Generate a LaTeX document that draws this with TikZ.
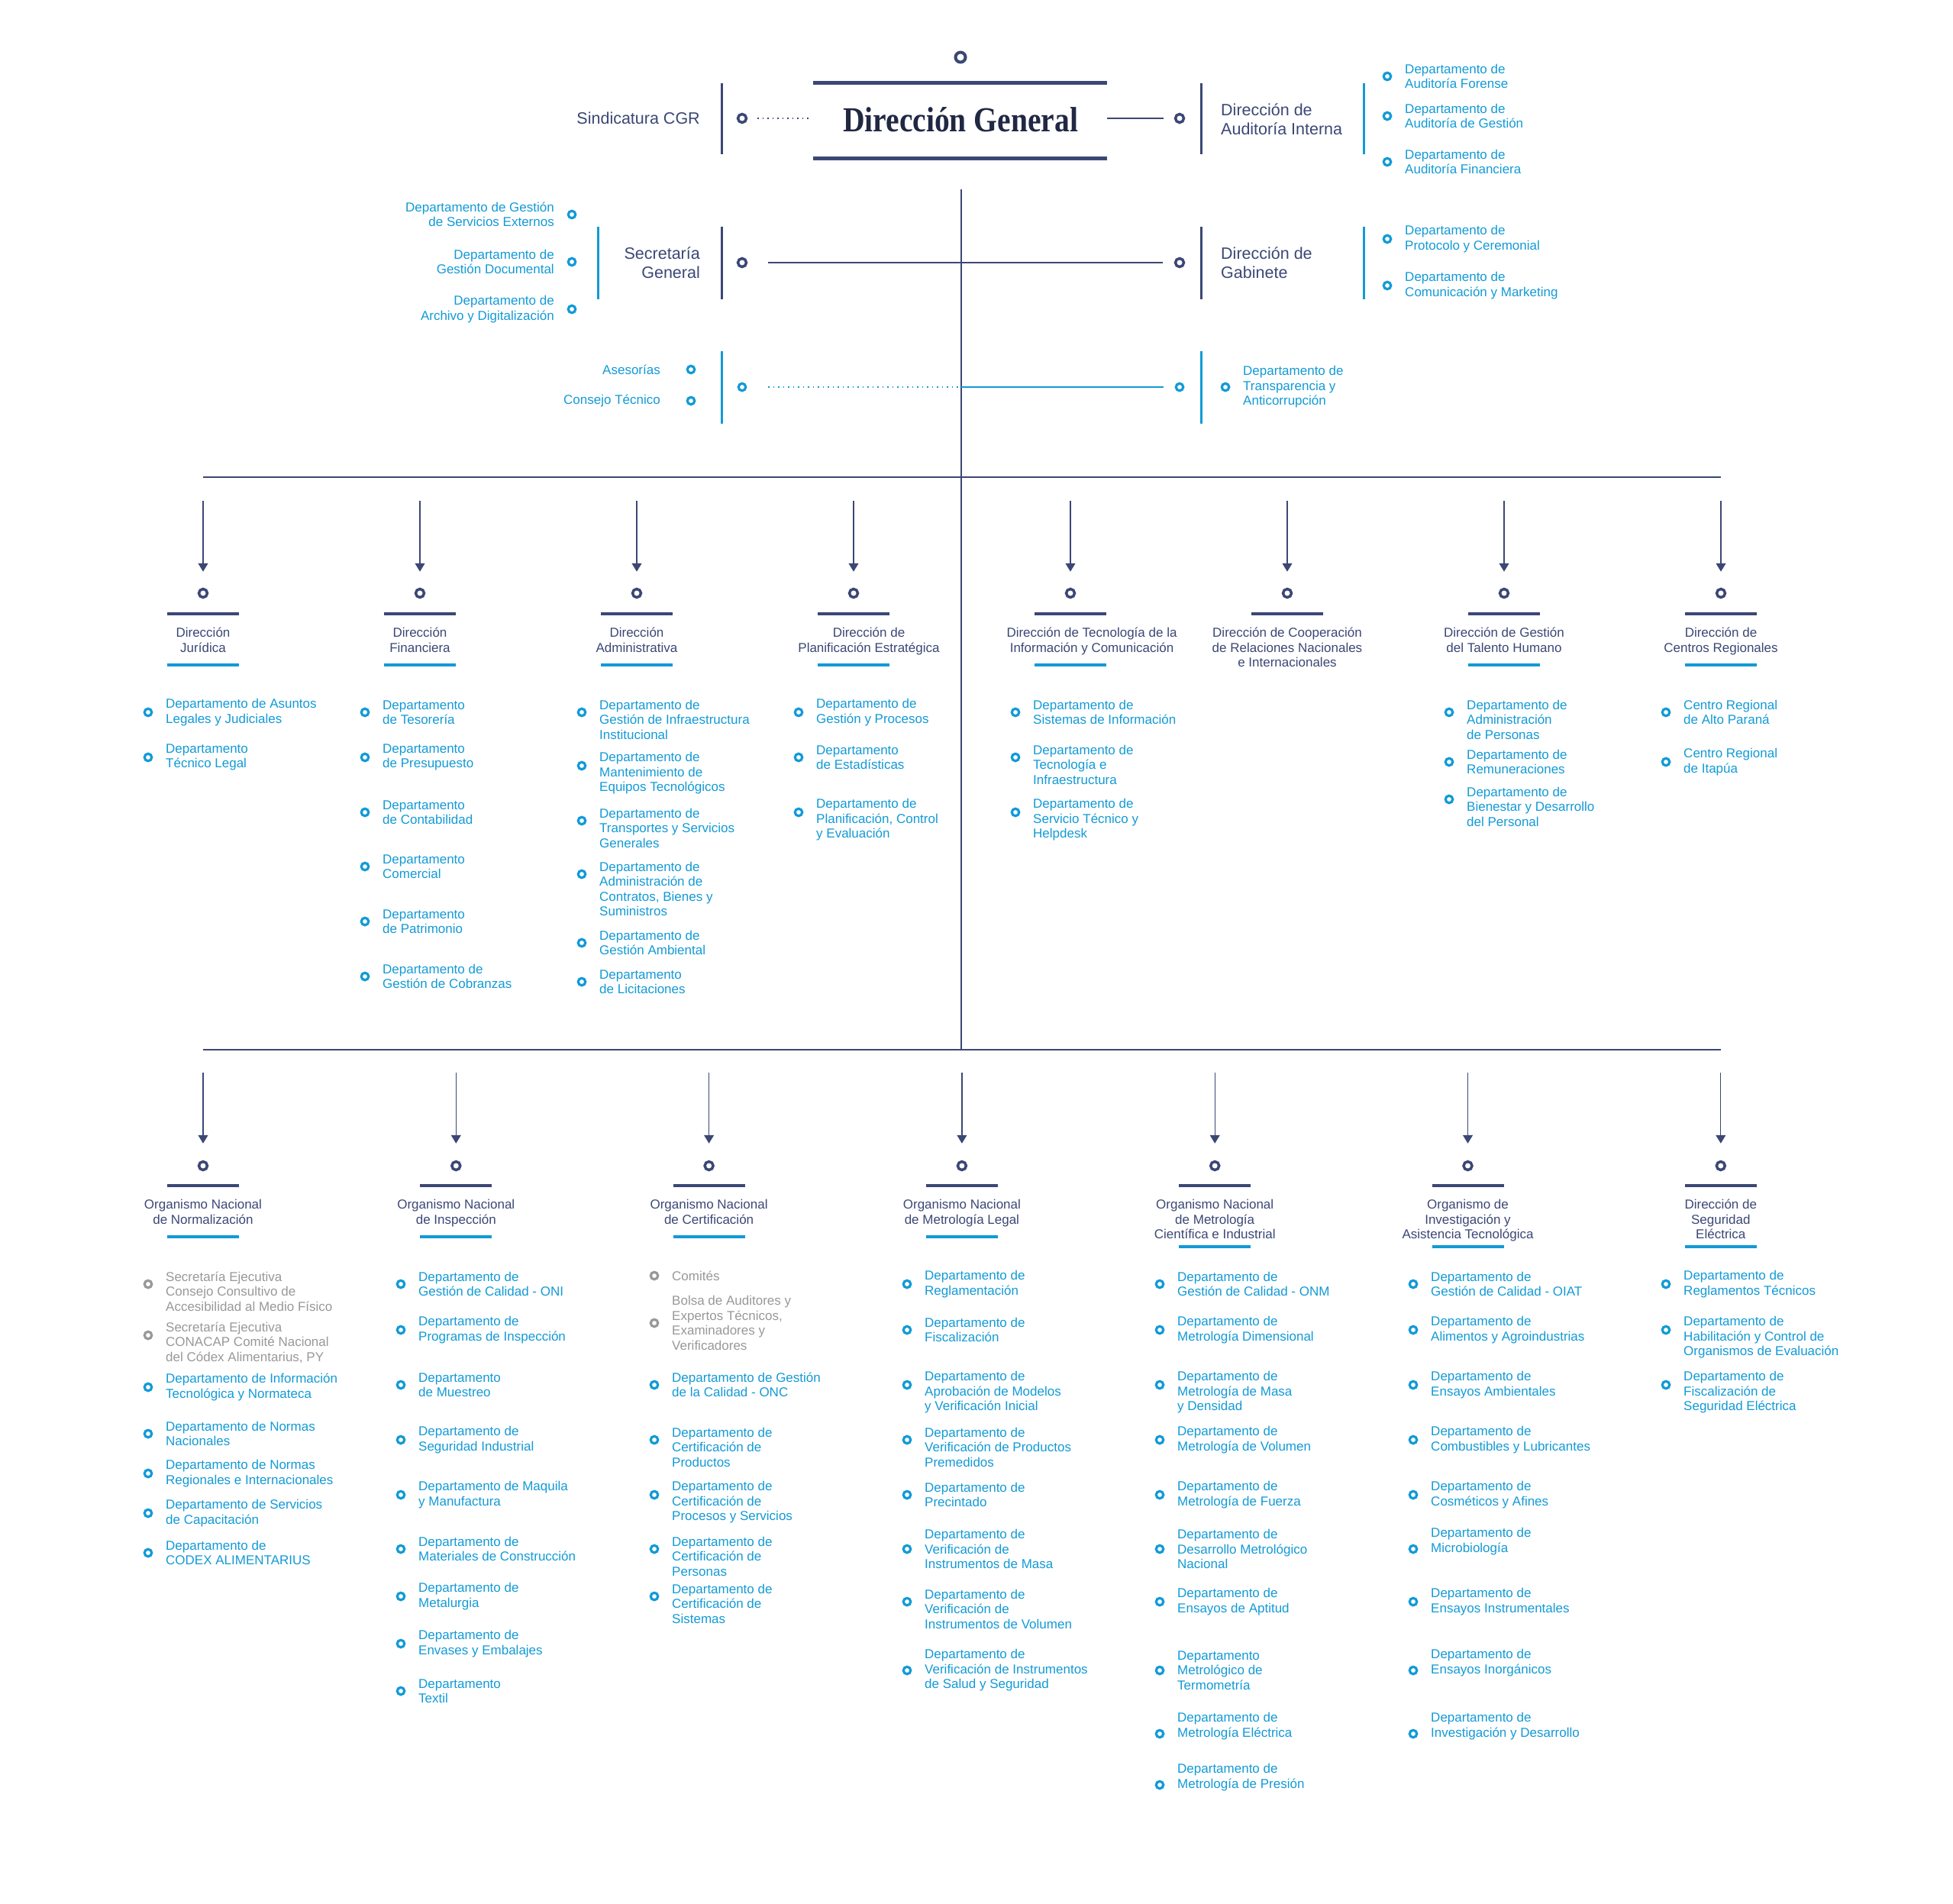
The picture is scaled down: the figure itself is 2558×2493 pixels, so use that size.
\documentclass[tikz,border=0pt]{standalone}
\usepackage{fontspec}
\setmainfont{Liberation Sans}
\newfontfamily\dgfont{Liberation Serif}
\usepackage{tikz}
\usetikzlibrary{positioning,arrows.meta}
\definecolor{cgrnavy}{RGB}{59,71,117}
\definecolor{cgrink}{RGB}{33,40,68}
\definecolor{cgrblue}{RGB}{18,154,214}
\definecolor{cgrgrey}{RGB}{152,152,152}

\begin{document}
\begin{tikzpicture}[x=1pt, y=-1pt]
	\tikzstyle{topdot}=[circle, draw=cgrnavy, line width=4pt, minimum size=13pt, inner sep=0pt]
	\tikzstyle{hdot}=[circle, draw=cgrnavy, line width=3.5pt, minimum size=11pt, inner sep=0pt]
	\tikzstyle{bdot}=[circle, draw=cgrblue, line width=3.2pt, minimum size=9.5pt, inner sep=0pt]
	\tikzstyle{gdot}=[bdot, draw=cgrgrey]
	\tikzstyle{unit}=[text=cgrnavy, inner sep=0pt, font=\fontsize{21.5}{24.5}\selectfont]
	\tikzstyle{head}=[text=cgrnavy, inner sep=0pt, align=center, font=\fontsize{17}{19.5}\selectfont]
	\tikzstyle{dept}=[text=cgrblue, inner sep=0pt, align=left, font=\fontsize{17}{19.5}\selectfont]
	\tikzstyle{greydept}=[dept, text=cgrgrey]
	\tikzstyle{navybar}=[draw=cgrnavy, line width=4pt]
	\tikzstyle{bluebar}=[draw=cgrblue, line width=4pt]
	\tikzstyle{link}=[draw=cgrnavy, line width=1.3pt]
	\tikzstyle{dotline}=[line width=1.5pt, dash pattern=on 1.5pt off 5pt]
	\tikzstyle{arr}=[link, -{Triangle[width=13pt,length=11pt]}]

	\useasboundingbox (0,0) rectangle (2558,2493);

	% direccion general
	\node [topdot] (top) at (1258,75) {};
	\node [text=cgrink, inner sep=0pt, font=\fontsize{46}{50}\dgfont\bfseries] (dg) at (1258,157) {\scalebox{0.86}[1]{Dirección General}};
	\draw [navybar, line width=5pt] (1065,108) -- (1450,108);
	\draw [navybar, line width=5pt] (1065,207) -- (1450,207);
	\coordinate (dg-l) at (1062,155);
	\coordinate (dg-r) at (1450,155);

	\node [hdot] (sind) at (972,155) {};
	\node [unit, anchor=east] (sind-t) at (917,155) {Sindicatura CGR};
	\draw [navybar, line width=3pt] (945,109) -- (945,202);
	\draw [dotline, cgrnavy, shorten <=13pt] (sind) -- (dg-l);

	\node [hdot] (audit) at (1545,155) {};
	\node [unit, anchor=west, align=left] (audit-t) at (1599,156) {Dirección de\\Auditoría Interna};
	\draw [navybar, line width=3pt] (1573,109) -- (1573,202);
	\draw [bluebar, line width=3pt] (1786,109) -- (1786,202);
	\draw [link, shorten >=14pt] (dg-r) -- (audit);
	\foreach \y/\txt [count=\k] in {100/{Departamento de\\Auditoría Forense}, 152/{Departamento de\\Auditoría de Gestión}, 212/{Departamento de\\Auditoría Financiera}}{
		\node [bdot] (audit-\k) at (1817,\y) {};
		\node [dept, anchor=west] (audit-\k-t) at (1840,\y) {\txt};
	}

	% tronco
	\coordinate (trunk) at (1259,248);
	\coordinate (bus1) at (1259,625);
	\coordinate (bus2) at (1259,1375);
	\draw [link] (trunk) -- (bus2);

	% secretaria general y gabinete
	\node [hdot] (sec) at (972,344) {};
	\node [unit, anchor=east, align=right] (sec-t) at (917,344) {Secretaría\\General};
	\draw [navybar, line width=3pt] (945,297) -- (945,392);
	\draw [bluebar, line width=3pt] (783,297) -- (783,392);
	\foreach \y/\txt [count=\k] in {281/{Departamento de Gestión\\de Servicios Externos}, 343/{Departamento de\\Gestión Documental}, 405/{Departamento de\\Archivo y Digitalización}}{
		\node [bdot] (sec-\k) at (749,\y) {};
		\node [dept, anchor=east, align=right] (sec-\k-t) at (726,\y) {\txt};
	}
	\node [hdot] (gab) at (1545,344) {};
	\node [unit, anchor=west, align=left] (gab-t) at (1599,344) {Dirección de\\Gabinete};
	\draw [navybar, line width=3pt] (1573,297) -- (1573,392);
	\draw [bluebar, line width=3pt] (1786,297) -- (1786,392);
	\foreach \y/\txt [count=\k] in {313/{Departamento de\\Protocolo y Ceremonial}, 374/{Departamento de\\Comunicación y Marketing}}{
		\node [bdot] (gab-\k) at (1817,\y) {};
		\node [dept, anchor=west] (gab-\k-t) at (1840,\y) {\txt};
	}
	\draw [link, shorten <=27pt, shorten >=15pt] (sec) -- (gab);

	% asesorias y transparencia
	\coordinate (mid) at (1259,507);
	\node [bdot] (ases) at (972,507) {};
	\draw [bluebar, line width=3pt] (945,460) -- (945,555);
	\node [bdot] (ases-1) at (905,484) {};
	\node [dept, anchor=east] (ases-1-t) at (865,484) {Asesorías};
	\node [bdot] (ases-2) at (905,525) {};
	\node [dept, anchor=east] (ases-2-t) at (865,525) {Consejo Técnico};
	\draw [dotline, cgrblue, shorten <=28pt] (ases) -- (mid);
	\node [bdot] (transp) at (1545,507) {};
	\draw [cgrblue, line width=1.5pt, shorten >=15pt] (mid) -- (transp);
	\draw [bluebar, line width=3pt] (1573,460) -- (1573,555);
	\node [bdot] (transp-1) at (1605,507) {};
	\node [dept, anchor=west] (transp-1-t) at (1628,507) {Departamento de\\Transparencia y\\Anticorrupción};

	% direcciones
	\coordinate (bus1-l) at (266,625);
	\coordinate (bus1-r) at (2254,625);
	\draw [link, line width=2.2pt] (bus1-l) -- (bus1-r);
	\foreach \i/\n/\dx/\txt in {0/jur/0/{Dirección\\Jurídica}, 1/fin/0/{Dirección\\Financiera}, 2/adm/0/{Dirección\\Administrativa}, 3/pla/20/{Dirección de\\Planificación Estratégica}, 4/tic/28/{Dirección de Tecnología de la\\Información y Comunicación}, 5/coo/0/{Dirección de Cooperación\\de Relaciones Nacionales\\e Internacionales}, 6/tal/0/{Dirección de Gestión\\del Talento Humano}, 7/cen/0/{Dirección de\\Centros Regionales}}{
		\coordinate (\n-in) at (266+284*\i,656);
		\node [hdot] (\n) at (266+284*\i,777) {};
		\draw [arr, shorten >=21pt] (\n-in) -- (\n);
		\draw [navybar] (266+284*\i-47,804) -- ++(94,0);
		\node [head, anchor=north] (\n-h) at (266+284*\i+\dx,822) {\txt};
	}
	\foreach \i in {0,1,2,3,4,6,7}
		\draw [bluebar] (266+284*\i-47,871) -- ++(94,0);

	\foreach \y/\s/\txt [count=\k] in {933/0/{Departamento de Asuntos\\Legales y Judiciales}, 992/0/{Departamento\\Técnico Legal}}{
		\node [bdot] (jur-\k) at (194,\y) {};
		\node [dept, anchor=west] (jur-\k-t) at (217,\y+\s) {\txt};
	}
	\foreach \y/\s/\txt [count=\k] in {933/0/{Departamento\\de Tesorería}, 992/0/{Departamento\\de Presupuesto}, 1064/0/{Departamento\\de Contabilidad}, 1135/0/{Departamento\\Comercial}, 1207/0/{Departamento\\de Patrimonio}, 1279/0/{Departamento de\\Gestión de Cobranzas}}{
		\node [bdot] (fin-\k) at (478,\y) {};
		\node [dept, anchor=west] (fin-\k-t) at (501,\y+\s) {\txt};
	}
	\foreach \y/\s/\txt [count=\k] in {933/9.75/{Departamento de\\Gestión de Infraestructura\\Institucional}, 1003/9.75/{Departamento de\\Mantenimiento de\\Equipos Tecnológicos}, 1075/9.75/{Departamento de\\Transportes y Servicios\\Generales}, 1145/19.5/{Departamento de\\Administración de\\Contratos, Bienes y\\Suministros}, 1235/0/{Departamento de\\Gestión Ambiental}, 1286/0/{Departamento\\de Licitaciones}}{
		\node [bdot] (adm-\k) at (762,\y) {};
		\node [dept, anchor=west] (adm-\k-t) at (785,\y+\s) {\txt};
	}
	\foreach \y/\s/\txt [count=\k] in {933/0/{Departamento de\\Gestión y Procesos}, 992/0/{Departamento\\de Estadísticas}, 1064/9.75/{Departamento de\\Planificación, Control\\y Evaluación}}{
		\node [bdot] (pla-\k) at (1046,\y) {};
		\node [dept, anchor=west] (pla-\k-t) at (1069,\y+\s) {\txt};
	}
	\foreach \y/\s/\txt [count=\k] in {933/0/{Departamento de\\Sistemas de Información}, 992/9.75/{Departamento de\\Tecnología e\\Infraestructura}, 1064/9.75/{Departamento de\\Servicio Técnico y\\Helpdesk}}{
		\node [bdot] (tic-\k) at (1330,\y) {};
		\node [dept, anchor=west] (tic-\k-t) at (1353,\y+\s) {\txt};
	}
	\foreach \y/\s/\txt [count=\k] in {933/9.75/{Departamento de\\Administración\\de Personas}, 998/0/{Departamento de\\Remuneraciones}, 1047/9.75/{Departamento de\\Bienestar y Desarrollo\\del Personal}}{
		\node [bdot] (tal-\k) at (1898,\y) {};
		\node [dept, anchor=west] (tal-\k-t) at (1921,\y+\s) {\txt};
	}
	\foreach \y/\s/\txt [count=\k] in {933/0/{Centro Regional\\de Alto Paraná}, 998/0/{Centro Regional\\de Itapúa}}{
		\node [bdot] (cen-\k) at (2182,\y) {};
		\node [dept, anchor=west] (cen-\k-t) at (2205,\y+\s) {\txt};
	}

	% organismos
	\coordinate (bus2-l) at (266,1375);
	\coordinate (bus2-r) at (2254,1375);
	\draw [link, line width=2.2pt] (bus2-l) -- (bus2-r);
	\foreach \i/\n/\txt/\b in {0/onn/{Organismo Nacional\\de Normalización}/1620, 1/oni/{Organismo Nacional\\de Inspección}/1620, 2/onc/{Organismo Nacional\\de Certificación}/1620, 3/onml/{Organismo Nacional\\de Metrología Legal}/1620, 4/onm/{Organismo Nacional\\de Metrología\\Científica e Industrial}/1633, 5/oiat/{Organismo de\\Investigación y\\Asistencia Tecnológica}/1633, 6/dse/{Dirección de\\Seguridad\\Eléctrica}/1633}{
		\coordinate (\n-in) at (266+331.3*\i,1405);
		\node [hdot] (\n) at (266+331.3*\i,1527) {};
		\draw [arr, shorten >=22pt] (\n-in) -- (\n);
		\draw [navybar] (266+331.3*\i-47,1553) -- ++(94,0);
		\node [head, anchor=north] (\n-h) at (266+331.3*\i,1571) {\txt};
		\draw [bluebar] (266+331.3*\i-47,\b) -- ++(94,0);
	}

	\node [gdot] (onn-g1) at (194,1682) {};
	\node [greydept, anchor=west] (onn-g1-t) at (217,1691.75) {Secretaría Ejecutiva\\Consejo Consultivo de\\Accesibilidad al Medio Físico};
	\node [gdot] (onn-g2) at (194,1749) {};
	\node [greydept, anchor=west] (onn-g2-t) at (217,1758.75) {Secretaría Ejecutiva\\CONACAP Comité Nacional\\del Códex Alimentarius, PY};
	\foreach \y/\s/\txt [count=\k] in {1817/0/{Departamento de Información\\Tecnológica y Normateca}, 1878/0/{Departamento de Normas\\Nacionales}, 1930/0/{Departamento de Normas\\Regionales e Internacionales}, 1982/0/{Departamento de Servicios\\de Capacitación}, 2034/0/{Departamento de\\CODEX ALIMENTARIUS}}{
		\node [bdot] (onn-\k) at (194,\y) {};
		\node [dept, anchor=west] (onn-\k-t) at (217,\y+\s) {\txt};
	}
	\foreach \y/\s/\txt [count=\k] in {1682/0/{Departamento de\\Gestión de Calidad - ONI}, 1742/0/{Departamento de\\Programas de Inspección}, 1814/0/{Departamento\\de Muestreo}, 1886/0/{Departamento de\\Seguridad Industrial}, 1958/0/{Departamento de Maquila\\y Manufactura}, 2029/0/{Departamento de\\Materiales de Construcción}, 2091/0/{Departamento de\\Metalurgia}, 2153/0/{Departamento de\\Envases y Embalajes}, 2215/0/{Departamento\\Textil}}{
		\node [bdot] (oni-\k) at (525,\y) {};
		\node [dept, anchor=west] (oni-\k-t) at (548,\y+\s) {\txt};
	}
	\node [gdot] (onc-g1) at (857,1671) {};
	\node [greydept, anchor=west] (onc-g1-t) at (880,1671) {Comités};
	\node [gdot] (onc-g2) at (857,1733) {};
	\node [greydept, anchor=west] (onc-g2-t) at (880,1733) {Bolsa de Auditores y\\Expertos Técnicos,\\Examinadores y\\Verificadores};
	\foreach \y/\s/\txt [count=\k] in {1814/0/{Departamento de Gestión\\de la Calidad - ONC}, 1886/9.75/{Departamento de\\Certificación de\\Productos}, 1958/9.75/{Departamento de\\Certificación de\\Procesos y Servicios}, 2029/9.75/{Departamento de\\Certificación de\\Personas}, 2091/9.75/{Departamento de\\Certificación de\\Sistemas}}{
		\node [bdot] (onc-\k) at (857,\y) {};
		\node [dept, anchor=west] (onc-\k-t) at (880,\y+\s) {\txt};
	}
	\foreach \y/\s/\txt [count=\k] in {1682/0/{Departamento de\\Reglamentación}, 1742/0/{Departamento de\\Fiscalización}, 1814/9.75/{Departamento de\\Aprobación de Modelos\\y Verificación Inicial}, 1886/9.75/{Departamento de\\Verificación de Productos\\Premedidos}, 1958/0/{Departamento de\\Precintado}, 2029/0/{Departamento de\\Verificación de\\Instrumentos de Masa}, 2098/9.75/{Departamento de\\Verificación de\\Instrumentos de Volumen}, 2188/0/{Departamento de\\Verificación de Instrumentos\\de Salud y Seguridad}}{
		\node [bdot] (onml-\k) at (1188,\y) {};
		\node [dept, anchor=west] (onml-\k-t) at (1211,\y+\s) {\txt};
	}
	\foreach \y/\s/\txt [count=\k] in {1682/0/{Departamento de\\Gestión de Calidad - ONM}, 1742/0/{Departamento de\\Metrología Dimensional}, 1814/9.75/{Departamento de\\Metrología de Masa\\y Densidad}, 1886/0/{Departamento de\\Metrología de Volumen}, 1958/0/{Departamento de\\Metrología de Fuerza}, 2029/0/{Departamento de\\Desarrollo Metrológico\\Nacional}, 2098/0/{Departamento de\\Ensayos de Aptitud}, 2188/0/{Departamento\\Metrológico de\\Termometría}, 2271/-9.75/{Departamento de\\Metrología Eléctrica}, 2338/-9.75/{Departamento de\\Metrología de Presión}}{
		\node [bdot] (onm-\k) at (1519,\y) {};
		\node [dept, anchor=west] (onm-\k-t) at (1542,\y+\s) {\txt};
	}
	\foreach \y/\s/\txt [count=\k] in {1682/0/{Departamento de\\Gestión de Calidad - OIAT}, 1742/0/{Departamento de\\Alimentos y Agroindustrias}, 1814/0/{Departamento de\\Ensayos Ambientales}, 1886/0/{Departamento de\\Combustibles y Lubricantes}, 1958/0/{Departamento de\\Cosméticos y Afines}, 2029/-9.75/{Departamento de\\Microbiología}, 2098/0/{Departamento de\\Ensayos Instrumentales}, 2188/-9.75/{Departamento de\\Ensayos Inorgánicos}, 2271/-9.75/{Departamento de\\Investigación y Desarrollo}}{
		\node [bdot] (oiat-\k) at (1851,\y) {};
		\node [dept, anchor=west] (oiat-\k-t) at (1874,\y+\s) {\txt};
	}
	\foreach \y/\s/\txt [count=\k] in {1682/0/{Departamento de\\Reglamentos Técnicos}, 1742/9.75/{Departamento de\\Habilitación y Control de\\Organismos de Evaluación}, 1814/9.75/{Departamento de\\Fiscalización de\\Seguridad Eléctrica}}{
		\node [bdot] (dse-\k) at (2182,\y) {};
		\node [dept, anchor=west] (dse-\k-t) at (2205,\y+\s) {\txt};
	}
\end{tikzpicture}
\end{document}
